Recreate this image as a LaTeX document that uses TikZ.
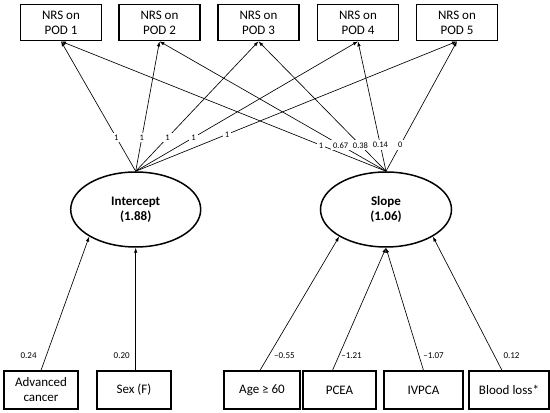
\documentclass[tikz,border=0pt]{standalone}
\usepackage{fontspec}
\setmainfont{Carlito}
\usetikzlibrary{arrows.meta,shapes.geometric}

\begin{document}
\begin{tikzpicture}[x=1pt, y=1pt,
  obsbox/.style={draw, line width=1.3pt, minimum height=36pt, align=center, inner sep=1pt, font=\fontsize{13}{15}\selectfont},
  factor/.style={draw, ellipse, line width=1.5pt, minimum width=130pt, minimum height=75pt, inner sep=0pt, align=center, font=\fontsize{13}{15}\selectfont\bfseries},
  link/.style={line width=0.65pt, -{Latex[length=5pt,width=3.5pt]}},
  load/.style={fill=white, inner sep=2pt, font=\fontsize{8.5}{10}\selectfont},
  coef/.style={inner sep=1pt, font=\fontsize{9}{10}\selectfont}]

\useasboundingbox (0,0) rectangle (550,413);

% Outcomes: pain score on each day
\foreach \i/\x in {1/61, 2/159.5, 3/258.5, 4/358, 5/457}
  \node[obsbox, minimum width=81pt] (pod\i) at (\x,390.3) {NRS on\\POD \i};

% Growth factors
\node[factor] (icpt) at (135.7,203.5) {Intercept\\(1.88)};
\node[factor, minimum width=131pt] (slope) at (386,203.5) {Slope\\(1.06)};

% Loadings of the intercept
\foreach \i/\p in {1/0.26, 2/0.26, 3/0.26, 4/0.26, 5/0.284}
  \draw[link] (icpt.north) -- node[load, pos=\p] (li\i) {1} (pod\i.south);

% Loadings of the slope
\foreach \i/\w in {1/1, 2/0.67, 3/0.38, 4/0.14, 5/0}
  \draw[link] (slope.north) -- node[load, pos=0.2] (ls\i) {\w} (pod\i.south);

% Covariates
\node[obsbox, minimum width=74pt, minimum height=38pt] (adv) at (41,23) {Advanced\\cancer};
\node[obsbox, minimum width=74pt, minimum height=38pt] (sex) at (134,23) {Sex (F)};
\node[obsbox, minimum width=76pt, minimum height=38pt] (age) at (262,23) {Age ≥ 60};
\node[obsbox, minimum width=73pt, minimum height=38pt] (pcea) at (339.5,23) {PCEA};
\node[obsbox, minimum width=79pt, minimum height=38pt] (ivpca) at (423.5,23) {IVPCA};
\node[obsbox, minimum width=80pt, minimum height=38pt] (blood) at (509,23) {Blood loss*};

% Regressions on the covariates
\draw[link] (adv.north) -- node[coef, pos=0.112, left=8.5pt] (cadv) {0.24} (icpt.south west);
\draw[link] (sex.north -| icpt.south) -- node[coef, pos=0.121, left=4.7pt] (csex) {0.20} (icpt.south);
\draw[link] ([xshift=-2pt]age.north) -- node[coef, pos=0.112, right=4pt] (cage) {–0.55} (slope.south west);
\draw[link] ([xshift=-7pt]pcea.north) -- node[coef, pos=0.121, right=1pt] (cpcea) {–1.21} (slope.south);
\draw[link] (ivpca.north) -- node[coef, pos=0.121, right=3pt] (civpca) {–1.07} (slope.south);
\draw[link] ([xshift=-7pt]blood.north) -- node[coef, pos=0.112, right=8pt] (cblood) {0.12} (slope.south east);
\end{tikzpicture}
\end{document}
